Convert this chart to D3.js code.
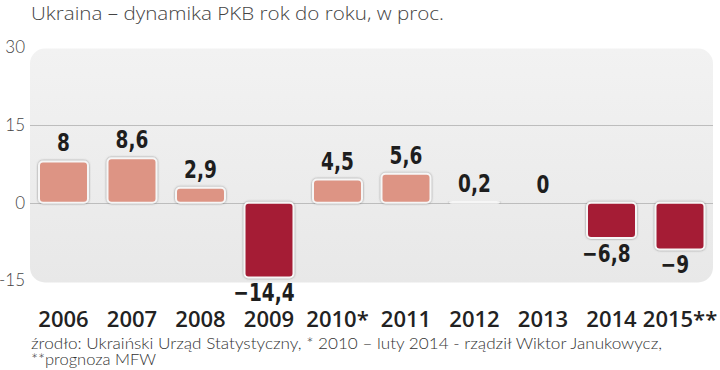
<!DOCTYPE html>
<html><head><meta charset="utf-8">
<script src="https://cdn.jsdelivr.net/npm/d3@7"></script>
<style>body{margin:0;background:#fff}svg{display:block}</style>
</head><body>
<script>
const title = "Ukraina – dynamika PKB rok do roku, w proc.";
const categories = ["2006","2007","2008","2009","2010*","2011","2012","2013","2014","2015**"];
const values = [8, 8.6, 2.9, -14.4, 4.5, 5.6, 0.2, 0, -6.8, -9];
const valueLabels = ["8","8,6","2,9","−14,4","4,5","5,6","0,2","0","−6,8","−9"];
const yTicks = [30, 15, 0, -15];
const gridValues = [15, 0];
const footer = ["źrodło: Ukraiński Urząd Statystyczny, * 2010 – luty 2014 - rządził Wiktor Janukowycz,", "**prognoza MFW"];

const W = 720, H = 370;
const svg = d3.select("body").append("svg").attr("width", W).attr("height", H);
const defs = svg.append("defs");
const grad = defs.append("linearGradient").attr("id","pg").attr("x1",0).attr("y1",0).attr("x2",0).attr("y2",1);
grad.append("stop").attr("offset","0%").attr("stop-color","#f2f2f2");
grad.append("stop").attr("offset","100%").attr("stop-color","#e8e8e8");
const f = defs.append("filter").attr("id","sh").attr("x","-20%").attr("y","-50%").attr("width","140%").attr("height","200%");
f.append("feDropShadow").attr("dx",0).attr("dy",0).attr("stdDeviation",1).attr("flood-color","#666").attr("flood-opacity",0.75);

const x = d3.scaleBand().domain(categories).range([29.25, 714.25]).paddingInner(0.285).paddingOuter(0.1425);
const y = d3.scaleLinear().domain([-15, 30]).range([280.5, 47.5]);

// panel
svg.append("rect").attr("x",30).attr("y",48.5).attr("width",683).attr("height",234)
  .attr("rx",15).attr("fill","url(#pg)");

// grid
svg.selectAll("line.grid").data(gridValues).enter().append("line")
  .attr("x1",30).attr("x2",713).attr("y1",d=>Math.round(y(d))+0.5).attr("y2",d=>Math.round(y(d))+0.5)
  .attr("stroke","#bdbdbd").attr("stroke-width",1);

// y axis labels
const yAxis = d3.axisLeft(y).tickValues(yTicks).tickSize(0).tickPadding(0).tickFormat(d=>d<0?"-"+Math.abs(d):d);
const ya = svg.append("g").attr("transform","translate(25,0)").call(yAxis);
ya.select(".domain").remove();
ya.selectAll("text").attr("font-family","Lato, 'Open Sans', sans-serif").attr("font-weight",300)
  .attr("font-size",17).attr("fill","#444");

// bars
svg.selectAll("rect.bar").data(values).enter().append("rect")
  .attr("x",(d,i)=>x(categories[i])).attr("width",x.bandwidth())
  .attr("y",d=>y(Math.max(0,d))).attr("height",d=>Math.abs(y(d)-y(0)))
  .attr("rx",4).attr("fill",d=>d<0?"#a51d35":"#dd9484")
  .attr("stroke","#f6f6f6").attr("stroke-width",2).attr("filter","url(#sh)");

// value labels
const vl = svg.selectAll("text.val").data(values).enter().append("text")
  .attr("x",(d,i)=>x(categories[i])+x.bandwidth()/2 - (d<0?5:0))
  .attr("y",d=>d<0?y(d)+24:y(d)-10)
  .attr("text-anchor","middle")
  .attr("font-family","'DejaVu Sans',sans-serif").attr("font-weight","bold")
  .attr("font-size",25).attr("fill","#1e1e1e")
  .text((d,i)=>valueLabels[i]);
vl.each(function(){
  const L = this.getComputedTextLength();
  d3.select(this).attr("textLength", L*0.74).attr("lengthAdjust","spacingAndGlyphs");
});

// x axis labels
const xAxis = d3.axisBottom(x).tickSize(0).tickPadding(0);
const xa = svg.append("g").attr("transform","translate(0,327)").call(xAxis);
xa.select(".domain").remove();
xa.selectAll("text").attr("dy",0).attr("font-family","'Open Sans',sans-serif").attr("font-weight",600)
  .attr("font-size",22).attr("fill","#222");

// title
svg.append("text").attr("x",31).attr("y",20).attr("font-family","'Open Sans', Lato, sans-serif")
  .attr("font-weight",300).attr("font-size",18).attr("fill","#444")
  .attr("textLength",413).attr("lengthAdjust","spacingAndGlyphs").text(title);

// footer
svg.selectAll("text.foot").data(footer).enter().append("text")
  .attr("x",31).attr("y",(d,i)=>349+i*16)
  .attr("font-family","Lato, 'Open Sans', sans-serif").attr("font-weight",300)
  .attr("font-size",16.5).attr("fill","#333")
  .each(function(d,i){ if(i===0) d3.select(this).attr("textLength",631).attr("lengthAdjust","spacingAndGlyphs"); })
  .text(d=>d);
</script>
</body></html>
